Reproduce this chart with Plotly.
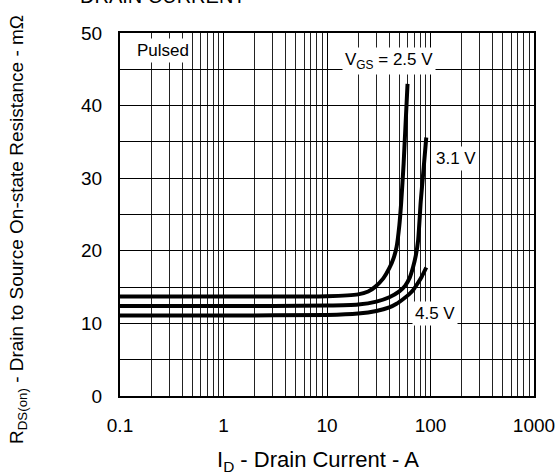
import plotly.graph_objects as go

# Drain current (A) and on-resistance (mOhm) for each gate voltage
id_25 = [0.1, 1, 10, 20, 25, 29, 35, 40, 44, 47, 50, 52, 55, 60]
r_25 = [13.7, 13.7, 13.75, 14.0, 14.4, 15.0, 16.2, 17.6, 19.0, 20.5, 23.5, 26.5, 32.0, 43.0]

id_31 = [0.1, 1, 10, 20, 30, 40, 50, 57, 63, 68, 72, 76, 80.5, 86, 91]
r_31 = [12.4, 12.4, 12.45, 12.6, 13.0, 13.6, 14.4, 15.2, 16.3, 17.8, 19.3, 21.5, 26.8, 31.5, 35.6]

id_45 = [0.1, 1, 10, 20, 30, 40, 47, 55, 62, 68, 75, 82, 91]
r_45 = [11.1, 11.1, 11.15, 11.35, 11.7, 12.2, 12.7, 13.4, 14.0, 14.6, 15.5, 16.4, 17.7]

x_tickvals = [0.1, 1, 10, 100, 1000]
x_ticktext = ["0.1", "1", "10", "100", "1000"]
y_tickvals = [0, 10, 20, 30, 40, 50]

FONT = "Liberation Sans, Arial, sans-serif"

fig = go.Figure()
for xs, ys in [(id_25, r_25), (id_31, r_31), (id_45, r_45)]:
    fig.add_trace(go.Scatter(x=xs, y=ys, mode="lines",
                             line=dict(color="black", width=4, shape="spline", smoothing=0.6),
                             showlegend=False, hoverinfo="skip"))

fig.update_layout(
    width=556, height=475,
    margin=dict(l=120, r=22, t=33, b=79, pad=0),
    paper_bgcolor="white", plot_bgcolor="white",
    font=dict(family=FONT, size=19, color="black"),
    showlegend=False,
)
fig.update_xaxes(
    type="log", range=[-1, 3], automargin=False,
    tickvals=x_tickvals, ticktext=x_ticktext,
    showgrid=True, gridcolor="#000", gridwidth=1,
    minor=dict(dtick="D1", showgrid=True, gridcolor="#222", gridwidth=1),
    showline=True, linecolor="black", linewidth=2, mirror=True,
    ticks="", ticklabelstandoff=11, zeroline=False,
    tickfont=dict(size=19),
)
fig.update_yaxes(
    range=[0, 50], tickvals=y_tickvals, automargin=False,
    showgrid=True, gridcolor="#000", gridwidth=1,
    minor=dict(dtick=5, showgrid=True, gridcolor="#000", gridwidth=1),
    showline=True, linecolor="black", linewidth=2, mirror=True,
    ticks="", ticklabelstandoff=12, zeroline=False,
    tickfont=dict(size=19),
)

def px2paper(px, py):
    return (px - 120) / 414.0, (396 - py) / 363.0

annots = [
    ("Pulsed", 163, 51),
    ("V<sub>GS</sub> = 2.5 V", 389, 61),
    ("3.1 V", 456, 158),
    ("4.5 V", 435, 313),
]
for text, px, py in annots:
    ax, ay = px2paper(px, py)
    fig.add_annotation(x=ax, y=ay, xref="paper", yref="paper", text=text,
                       showarrow=False, font=dict(size=17, family=FONT, color="black"),
                       bgcolor="white", borderpad=2, xanchor="center", yanchor="middle")

# axis titles
ax, ay = px2paper(318, 461)
fig.add_annotation(x=ax, y=ay, xref="paper", yref="paper",
                   text="I<sub>D</sub> - Drain Current - A", showarrow=False,
                   font=dict(size=22, family=FONT, color="black"),
                   xanchor="center", yanchor="middle")
ax, ay = px2paper(18, 230)
fig.add_annotation(x=ax, y=ay, xref="paper", yref="paper",
                   text="R<sub>DS(on)</sub> - Drain to Source On-state Resistance - mΩ",
                   showarrow=False, textangle=-90,
                   font=dict(size=19, family=FONT, color="black"),
                   xanchor="center", yanchor="middle")
ax, ay = px2paper(78, -4)
fig.add_annotation(x=ax, y=ay, xref="paper", yref="paper",
                   text="DRAIN CURRENT", showarrow=False,
                   font=dict(size=20, family=FONT, color="black"),
                   xanchor="left", yanchor="middle")

fig.write_html(
    "out.html",
    config={"displayModeBar": False},
    post_script="document.body.style.margin='0';document.body.style.overflow='hidden';",
)
